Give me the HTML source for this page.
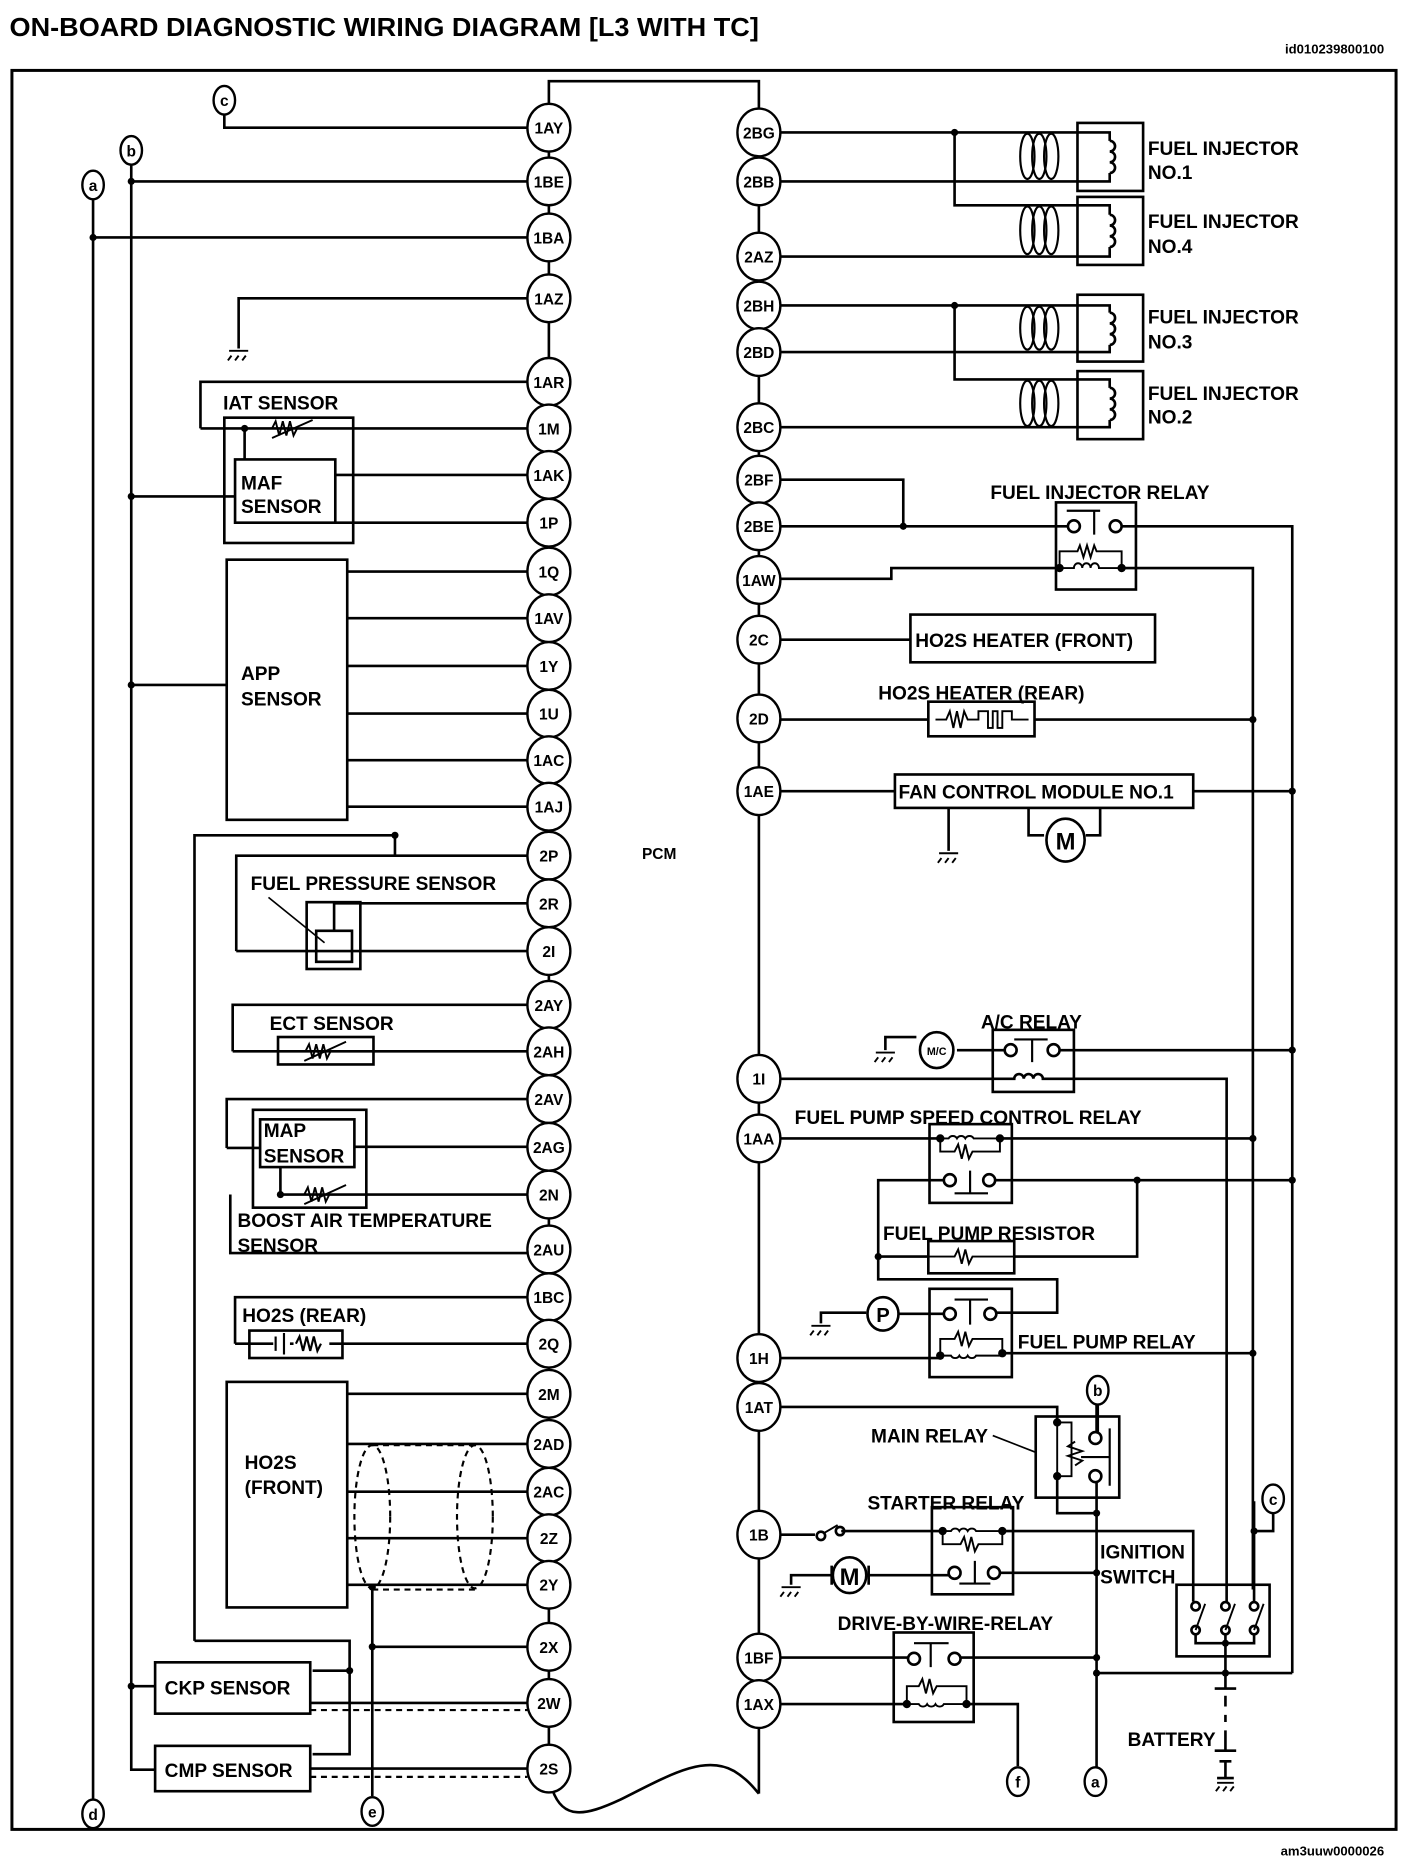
<!DOCTYPE html>
<html><head><meta charset="utf-8"><style>
html,body{margin:0;padding:0;background:#fff;}
svg{display:block;}
text{font-family:"Liberation Sans Narrow","Liberation Sans",sans-serif;font-weight:bold;fill:#000;}
</style></head><body>
<svg width="1408" height="1864" viewBox="0 0 1180 1562" preserveAspectRatio="none" xmlns="http://www.w3.org/2000/svg">
<g fill="none" stroke="#000" stroke-width="2.2">
<!-- border -->
<rect x="10" y="59" width="1160" height="1474" stroke-width="2.5"/>
<!-- PCM body -->
<path d="M460,87 V68 H636 V91"/>
<path d="M460,87 V1462"/>
<path d="M636,91 V1503"/>
<path d="M463,1500 C472,1525 490,1522 520,1508 C560,1488 590,1470 615,1484 C628,1492 633,1500 636,1503"/>
<!-- left connections -->
<path d="M188,96 V107 H442"/>
<path d="M110,137 V1483 H130"/>
<path d="M78,167 V1508"/>
<path d="M110,152 H442"/>
<path d="M78,199 H442"/>
<path d="M200,292 V250 H442"/>
<path d="M168,359 V320 H442"/>
<path d="M168,359 H442"/>
<rect x="188" y="350" width="108" height="105"/>
<rect x="197" y="385" width="84" height="53"/>
<path d="M205,359 V385"/>
<path d="M281,398 H442 M281,438 H442 M110,416 H197"/>
<rect x="190" y="469" width="101" height="218"/>
<path d="M291,479 H442 M291,518 H442 M291,558 H442 M291,598 H442 M291,637 H442 M291,676 H442 M110,574 H190"/>
<path d="M163,1375 V700 H331 V717 M198,797 V717 H442"/>
<path d="M198,797 H442"/>
<rect x="257" y="756" width="45" height="56"/>
<rect x="265" y="780" width="30" height="26"/>
<path d="M280,780 V757 H442"/>
<path d="M225,752 L272,790" stroke-width="1.4"/>
<path d="M195,881 V842 H442 M195,881 H442"/>
<rect x="233" y="869" width="80" height="23"/>
<path d="M190,962 V921 H442 M190,962 H218"/>
<rect x="212" y="930" width="95" height="82"/>
<rect x="218" y="938" width="79" height="40"/>
<path d="M297,961 H442 M235,978 V1001 M235,1001 H442 M193,1001 V1050 H442"/>
<path d="M197,1126 V1087 H442 M197,1126 H442"/>
<rect x="209" y="1115" width="78" height="23"/>
<rect x="190" y="1158" width="101" height="189"/>
<path d="M291,1168 H442 M291,1210 H442 M291,1250 H442 M291,1289 H442 M291,1328 H442"/>
<g stroke-dasharray="5,4" stroke-width="1.8">
<ellipse cx="312" cy="1271" rx="15" ry="60"/>
<ellipse cx="398" cy="1271" rx="15" ry="60"/>
<path d="M312,1211 H398 M312,1332 H398"/>
<path d="M260,1433 H442 M260,1489 H442"/>
</g>
<path d="M312,1328 V1505 M312,1380 H442"/>
<path d="M163,1375 H293 V1470 H262"/>
<rect x="130" y="1393" width="130" height="43"/>
<rect x="130" y="1463" width="130" height="38"/>
<path d="M110,1413 H130 M260,1427 H442 M260,1482 H442 M262,1400 H293"/>
<!-- right: injectors -->
<path d="M654,111 H903 M654,152 H903 M800,111 V172 H903 M654,215 H903"/>
<path d="M654,256 H903 M654,295 H903 M800,256 V318 H903 M654,358 H903"/>
<g stroke-width="1.8">
<ellipse cx="861" cy="131" rx="6" ry="19"/><ellipse cx="871" cy="131" rx="6" ry="19"/><ellipse cx="881" cy="131" rx="6" ry="19"/>
<ellipse cx="861" cy="193" rx="6" ry="20"/><ellipse cx="871" cy="193" rx="6" ry="20"/><ellipse cx="881" cy="193" rx="6" ry="20"/>
<ellipse cx="861" cy="275" rx="6" ry="18"/><ellipse cx="871" cy="275" rx="6" ry="18"/><ellipse cx="881" cy="275" rx="6" ry="18"/>
<ellipse cx="861" cy="338" rx="6" ry="19"/><ellipse cx="871" cy="338" rx="6" ry="19"/><ellipse cx="881" cy="338" rx="6" ry="19"/>
</g>
<rect x="903" y="103" width="55" height="57"/>
<rect x="903" y="165" width="55" height="57"/>
<rect x="903" y="247" width="55" height="56"/>
<rect x="903" y="311" width="55" height="57"/>
<path d="M903,111 H930 V118 M930,145 V152 H903 M930,118 a4,4 0 0 1 0,9 a4,4 0 0 1 0,9 a4,4 0 0 1 0,9"/>
<path d="M903,172 H930 V180 M930,207 V215 H903 M930,180 a4,4 0 0 1 0,9 a4,4 0 0 1 0,9 a4,4 0 0 1 0,9"/>
<path d="M903,256 H930 V262 M930,289 V295 H903 M930,262 a4,4 0 0 1 0,9 a4,4 0 0 1 0,9 a4,4 0 0 1 0,9"/>
<path d="M903,318 H930 V325 M930,352 V358 H903 M930,325 a4,4 0 0 1 0,9 a4,4 0 0 1 0,9 a4,4 0 0 1 0,9"/>
<!-- fuel injector relay -->
<path d="M654,402 H757 V441 M654,441 H895"/>
<rect x="885" y="421" width="67" height="73"/>
<circle cx="900" cy="441" r="5"/><circle cx="935" cy="441" r="5"/>
<path d="M894,428 H922 M917,428 V448" stroke-width="1.8"/>
<path d="M654,485 H747 V476 H888 M940,476 H1050 V1332 M940,441 H1083 V1402"/>
<path d="M888,476 V462 H903 l2,-5 3,10 3,-10 3,10 3,-10 2,5 H940 V476" stroke-width="1.6"/>
<path d="M888,476 H900 a3.5,4 0 0 1 7,0 a3.5,4 0 0 1 7,0 a3.5,4 0 0 1 7,0 H940" stroke-width="1.6"/>
<!-- HO2S heaters -->
<path d="M654,536 H763"/>
<rect x="763" y="515" width="205" height="40"/>
<path d="M654,603 H778 M867,603 H1050"/>
<rect x="778" y="588" width="89" height="29"/>
<path d="M784,603 H793 l3,-7 3,14 3,-14 3,14 3,-14 3,7 H820 V596 H828 V610 H832 V596 H836 V610 H840 V596 H848 V603 H862" stroke-width="1.6"/>
<!-- fan -->
<path d="M654,663 H750 M1000,663 H1083"/>
<rect x="750" y="649" width="250" height="28"/>
<path d="M795,677 V713"/>
<path d="M862,677 V700 H875 M922,677 V700 H910"/>
<ellipse cx="893" cy="704" rx="16" ry="18"/>
<!-- A/C relay -->
<rect x="832" y="863" width="68" height="52"/>
<circle cx="847" cy="880" r="5"/><circle cx="883" cy="880" r="5"/>
<path d="M850,871 H878 M865,871 V890" stroke-width="1.8"/>
<path d="M742,880 V869 H768 M802,880 H842 M888,880 H1083"/>
<ellipse cx="785" cy="880" rx="14" ry="15"/>
<path d="M654,904 H850 a4,4 0 0 1 8,0 a4,4 0 0 1 8,0 a4,4 0 0 1 8,0 H1028 V1332"/>
<!-- fuel pump speed control relay -->
<rect x="779" y="942" width="69" height="66"/>
<path d="M654,954 H788 M838,954 H1050"/>
<path d="M788,954 H795 a4,4 0 0 1 7,0 a4,4 0 0 1 7,0 a4,4 0 0 1 7,0 H838 M788,954 V965 H800 l3,-6 3,12 3,-12 3,12 3,-6 H838 V954" stroke-width="1.6"/>
<circle cx="796" cy="989" r="5"/><circle cx="829" cy="989" r="5"/>
<path d="M800,1000 H828 M813,1000 V981" stroke-width="1.8"/>
<path d="M791,989 H736 V1072 H886 V1100 H834 M834,989 H1083 M953,989 V1053 H849 M736,1053 H778"/>
<rect x="778" y="1040" width="72" height="27"/>
<path d="M778,1053 H800 l3,-6 3,12 3,-12 3,12 3,-6 H850" stroke-width="1.6"/>
<!-- fuel pump relay -->
<rect x="779" y="1080" width="69" height="74"/>
<circle cx="796" cy="1101" r="5"/><circle cx="830" cy="1101" r="5"/>
<path d="M800,1089 H828 M813,1089 V1110" stroke-width="1.8"/>
<path d="M688,1109 V1100 H726 M753,1101 H791"/>
<ellipse cx="740" cy="1101" rx="13" ry="14"/>
<path d="M654,1138 H788 M838,1134 H1050"/>
<path d="M788,1136 V1122 H800 l3,-6 3,12 3,-12 3,12 3,-6 H840 V1134 M788,1136 H797 a4,4 0 0 0 7,0 a4,4 0 0 0 7,0 a4,4 0 0 0 7,0 H840" stroke-width="1.6"/>
<!-- main relay -->
<path d="M654,1179 H886 V1192"/>
<rect x="868" y="1187" width="70" height="68"/>
<path d="M886,1192 V1237 M886,1192 H898 V1237 H886" stroke-width="1.6"/>
<path d="M901,1208 l-6,4 12,4 -12,4 12,4 -6,4" stroke-width="1.6"/>
<circle cx="918" cy="1205" r="5"/><circle cx="918" cy="1237" r="5"/>
<path d="M930,1197 V1245 M930,1221 H906" stroke-width="1.8"/>
<path d="M886,1237 V1268 H919 M919,1176 V1200 M919,1242 V1493"/>
<path d="M832,1203 L868,1217" stroke-width="1.4"/>
<!-- starter relay -->
<rect x="781" y="1263" width="68" height="73"/>
<path d="M654,1286 H683 M705,1283 H790 M840,1283 H1000 V1332"/>
<circle cx="688" cy="1287" r="3.5"/><circle cx="704" cy="1283" r="3.5"/>
<path d="M690,1285 L702,1278" stroke-width="1.6"/>
<path d="M790,1283 H797 a4,4 0 0 1 7,0 a4,4 0 0 1 7,0 a4,4 0 0 1 7,0 H840 M790,1283 V1294 H805 l3,-6 3,12 3,-12 3,12 3,-6 H840 V1283" stroke-width="1.6"/>
<circle cx="800" cy="1318" r="5"/><circle cx="833" cy="1318" r="5"/>
<path d="M804,1327 H830 M817,1327 V1308" stroke-width="1.8"/>
<path d="M663,1328 V1320 H697 M728,1320 H795 M838,1318 H919"/>
<ellipse cx="712" cy="1320" rx="14" ry="15"/>
<path d="M697,1312 V1328 M728,1312 V1328"/>
<!-- ignition switch -->
<rect x="986" y="1328" width="78" height="60"/>
<path d="M1000,1332 V1342 M1028,1332 V1342 M1051,1258 V1342" />
<circle cx="1002" cy="1346" r="3.5"/><circle cx="1027" cy="1346" r="3.5"/><circle cx="1051" cy="1346" r="3.5"/>
<circle cx="1002" cy="1366" r="3.5"/><circle cx="1027" cy="1366" r="3.5"/><circle cx="1051" cy="1366" r="3.5"/>
<path d="M1002,1366 L1010,1344 M1027,1366 L1035,1344 M1051,1366 L1059,1344" stroke-width="1.6"/>
<path d="M1002,1370 V1377 H1051 V1370 M1027,1370 V1415"/>
<path d="M1051,1283 H1067 V1267"/>
<path d="M919,1402 H1083"/>
<!-- battery -->
<path d="M1018,1415 H1036 M1027,1421 V1430 M1027,1437 V1443 M1027,1450 V1457 M1018,1467 H1036 M1027,1467 V1457 M1022,1476 H1032 M1027,1476 V1490 M1020,1490 H1034"/>
<!-- DBW relay -->
<rect x="749" y="1368" width="67" height="75"/>
<circle cx="766" cy="1390" r="5"/><circle cx="800" cy="1390" r="5"/>
<path d="M766,1377 H795 M780,1377 V1397" stroke-width="1.8"/>
<path d="M654,1389 H761 M805,1389 H919"/>
<path d="M654,1428 H760 M810,1428 H853 V1480"/>
<path d="M760,1428 V1413 H770 l3,-6 3,12 3,-12 3,12 3,-6 H810 V1428 M760,1428 H770 a4,4 0 0 0 7,0 a4,4 0 0 0 7,0 a4,4 0 0 0 7,0 H810" stroke-width="1.6"/>
</g>
<!-- resistors / thermistors left -->
<g fill="none" stroke="#000" stroke-width="1.6">
<path d="M228,359 l3,-6 3,12 3,-12 3,12 3,-12 3,12 3,-6 M228,367 L262,352"/>
<path d="M256,881 l3,-6 3,12 3,-12 3,12 3,-12 3,12 3,-6 M255,889 L290,873"/>
<path d="M255,1001 l3,-6 3,12 3,-12 3,12 3,-12 3,12 3,-6 M255,1009 L290,993"/>
<path d="M235,1120 V1132 M240,1117 V1135 M247,1126 l3,-6 3,12 3,-12 3,12 3,-12 3,6" stroke="#fff" stroke-width="0"/>
</g>
<rect x="229" y="1120" width="14" height="12" fill="#fff"/>
<rect x="246" y="1120" width="30" height="12" fill="#fff"/>
<path d="M231,1120 V1132 M238,1117 V1135 M248,1126 l3,-6 3,12 3,-12 3,12 3,-12 3,12 3,-6" fill="none" stroke="#000" stroke-width="1.8"/>
<!-- grounds -->
<g fill="none" stroke="#000" stroke-width="1.6">
<path d="M192,294 H208 M194,298 l-3,4 M200,298 l-3,4 M206,298 l-3,4" />
<path d="M787,715 H803 M789,719 l-3,4 M795,719 l-3,4 M801,719 l-3,4"/>
<path d="M734,882 H750 M736,886 l-3,4 M742,886 l-3,4 M748,886 l-3,4"/>
<path d="M680,1111 H696 M682,1115 l-3,4 M688,1115 l-3,4 M694,1115 l-3,4"/>
<path d="M655,1330 H671 M657,1334 l-3,4 M663,1334 l-3,4 M669,1334 l-3,4"/>
<path d="M1020,1494 H1034 M1022,1497 l-3,4 M1028,1497 l-3,4 M1034,1497 l-3,4"/>
</g>
<!-- dots -->
<g fill="#000">
<circle cx="110" cy="152" r="3"/><circle cx="78" cy="199" r="3"/><circle cx="205" cy="359" r="3"/>
<circle cx="110" cy="416" r="3"/><circle cx="110" cy="574" r="3"/><circle cx="331" cy="700" r="3"/>
<circle cx="235" cy="1001" r="3"/><circle cx="312" cy="1330" r="3"/><circle cx="312" cy="1380" r="3"/>
<circle cx="293" cy="1400" r="3"/><circle cx="110" cy="1413" r="3"/>
<circle cx="800" cy="111" r="3"/><circle cx="800" cy="256" r="3"/><circle cx="757" cy="441" r="3"/>
<circle cx="888" cy="476" r="3.5"/><circle cx="940" cy="476" r="3.5"/>
<circle cx="1050" cy="603" r="3"/><circle cx="1083" cy="663" r="3"/><circle cx="1083" cy="880" r="3"/>
<circle cx="788" cy="954" r="3.5"/><circle cx="838" cy="954" r="3.5"/><circle cx="1050" cy="954" r="3"/>
<circle cx="953" cy="989" r="3"/><circle cx="1083" cy="989" r="3"/><circle cx="736" cy="1053" r="3"/>
<circle cx="788" cy="1136" r="3.5"/><circle cx="840" cy="1134" r="3.5"/><circle cx="1050" cy="1134" r="3"/>
<circle cx="886" cy="1192" r="3.5"/><circle cx="886" cy="1237" r="3.5"/><circle cx="919" cy="1268" r="3"/>
<circle cx="790" cy="1283" r="3.5"/><circle cx="840" cy="1283" r="3.5"/><circle cx="919" cy="1318" r="3"/>
<circle cx="1051" cy="1283" r="3"/><circle cx="1027" cy="1377" r="3"/><circle cx="1027" cy="1402" r="3"/>
<circle cx="919" cy="1389" r="3"/><circle cx="919" cy="1402" r="3"/>
<circle cx="760" cy="1428" r="3.5"/><circle cx="810" cy="1428" r="3.5"/>
</g>
<!-- pins -->
<g fill="#fff" stroke="#000" stroke-width="2">
<ellipse cx="460" cy="107" rx="18" ry="20"/><ellipse cx="460" cy="152" rx="18" ry="20"/><ellipse cx="460" cy="199" rx="18" ry="20"/><ellipse cx="460" cy="250" rx="18" ry="20"/>
<ellipse cx="460" cy="320" rx="18" ry="20"/><ellipse cx="460" cy="359" rx="18" ry="20"/><ellipse cx="460" cy="398" rx="18" ry="20"/><ellipse cx="460" cy="438" rx="18" ry="20"/>
<ellipse cx="460" cy="479" rx="18" ry="20"/><ellipse cx="460" cy="518" rx="18" ry="20"/><ellipse cx="460" cy="558" rx="18" ry="20"/><ellipse cx="460" cy="598" rx="18" ry="20"/>
<ellipse cx="460" cy="637" rx="18" ry="20"/><ellipse cx="460" cy="676" rx="18" ry="20"/><ellipse cx="460" cy="717" rx="18" ry="20"/><ellipse cx="460" cy="757" rx="18" ry="20"/>
<ellipse cx="460" cy="797" rx="18" ry="20"/><ellipse cx="460" cy="842" rx="18" ry="20"/><ellipse cx="460" cy="881" rx="18" ry="20"/><ellipse cx="460" cy="921" rx="18" ry="20"/>
<ellipse cx="460" cy="961" rx="18" ry="20"/><ellipse cx="460" cy="1001" rx="18" ry="20"/><ellipse cx="460" cy="1047" rx="18" ry="20"/><ellipse cx="460" cy="1087" rx="18" ry="20"/>
<ellipse cx="460" cy="1126" rx="18" ry="20"/><ellipse cx="460" cy="1168" rx="18" ry="20"/><ellipse cx="460" cy="1210" rx="18" ry="20"/><ellipse cx="460" cy="1250" rx="18" ry="20"/>
<ellipse cx="460" cy="1289" rx="18" ry="20"/><ellipse cx="460" cy="1328" rx="18" ry="20"/><ellipse cx="460" cy="1380" rx="18" ry="20"/><ellipse cx="460" cy="1427" rx="18" ry="20"/>
<ellipse cx="460" cy="1482" rx="18" ry="20"/>
<ellipse cx="636" cy="111" rx="18" ry="20"/><ellipse cx="636" cy="152" rx="18" ry="20"/><ellipse cx="636" cy="215" rx="18" ry="20"/><ellipse cx="636" cy="256" rx="18" ry="20"/>
<ellipse cx="636" cy="295" rx="18" ry="20"/><ellipse cx="636" cy="358" rx="18" ry="20"/><ellipse cx="636" cy="402" rx="18" ry="20"/><ellipse cx="636" cy="441" rx="18" ry="20"/>
<ellipse cx="636" cy="486" rx="18" ry="20"/><ellipse cx="636" cy="536" rx="18" ry="20"/><ellipse cx="636" cy="602" rx="18" ry="20"/><ellipse cx="636" cy="663" rx="18" ry="20"/>
<ellipse cx="636" cy="904" rx="18" ry="20"/><ellipse cx="636" cy="954" rx="18" ry="20"/><ellipse cx="636" cy="1138" rx="18" ry="20"/><ellipse cx="636" cy="1179" rx="18" ry="20"/>
<ellipse cx="636" cy="1286" rx="18" ry="20"/><ellipse cx="636" cy="1389" rx="18" ry="20"/><ellipse cx="636" cy="1428" rx="18" ry="20"/>
<!-- letter connectors -->
<ellipse cx="188" cy="84" rx="9" ry="12"/><ellipse cx="110" cy="126" rx="9" ry="12"/><ellipse cx="78" cy="155" rx="9" ry="12"/>
<ellipse cx="78" cy="1520" rx="9" ry="12"/><ellipse cx="312" cy="1518" rx="9" ry="12"/>
<ellipse cx="920" cy="1165" rx="9" ry="12"/><ellipse cx="1067" cy="1256" rx="9" ry="12"/>
<ellipse cx="853" cy="1493" rx="9" ry="12"/><ellipse cx="918" cy="1493" rx="9" ry="12"/>
</g>
<path d="M920,1177 V1200" stroke="#000" stroke-width="2.2"/>
<g font-size="13" text-anchor="middle">
<text x="460" y="112">1AY</text><text x="460" y="157">1BE</text><text x="460" y="204">1BA</text><text x="460" y="255">1AZ</text>
<text x="460" y="325">1AR</text><text x="460" y="364">1M</text><text x="460" y="403">1AK</text><text x="460" y="443">1P</text>
<text x="460" y="484">1Q</text><text x="460" y="523">1AV</text><text x="460" y="563">1Y</text><text x="460" y="603">1U</text>
<text x="460" y="642">1AC</text><text x="460" y="681">1AJ</text><text x="460" y="722">2P</text><text x="460" y="762">2R</text>
<text x="460" y="802">2I</text><text x="460" y="847">2AY</text><text x="460" y="886">2AH</text><text x="460" y="926">2AV</text>
<text x="460" y="966">2AG</text><text x="460" y="1006">2N</text><text x="460" y="1052">2AU</text><text x="460" y="1092">1BC</text>
<text x="460" y="1131">2Q</text><text x="460" y="1173">2M</text><text x="460" y="1215">2AD</text><text x="460" y="1255">2AC</text>
<text x="460" y="1294">2Z</text><text x="460" y="1333">2Y</text><text x="460" y="1385">2X</text><text x="460" y="1432">2W</text>
<text x="460" y="1487">2S</text>
<text x="636" y="116">2BG</text><text x="636" y="157">2BB</text><text x="636" y="220">2AZ</text><text x="636" y="261">2BH</text>
<text x="636" y="300">2BD</text><text x="636" y="363">2BC</text><text x="636" y="407">2BF</text><text x="636" y="446">2BE</text>
<text x="636" y="491">1AW</text><text x="636" y="541">2C</text><text x="636" y="607">2D</text><text x="636" y="668">1AE</text>
<text x="636" y="909">1I</text><text x="636" y="959">1AA</text><text x="636" y="1143">1H</text><text x="636" y="1184">1AT</text>
<text x="636" y="1291">1B</text><text x="636" y="1394">1BF</text><text x="636" y="1433">1AX</text>
<text x="188" y="89">c</text><text x="110" y="131">b</text><text x="78" y="160">a</text><text x="78" y="1525">d</text><text x="312" y="1523">e</text>
<text x="920" y="1170">b</text><text x="1067" y="1261">c</text><text x="853" y="1498">f</text><text x="918" y="1498">a</text>
<text x="893" y="712" font-size="20">M</text><text x="712" y="1328" font-size="20">M</text><text x="740" y="1108" font-size="17">P</text>
<text x="785" y="884" font-size="9">M/C</text>
</g>
<g font-size="16">
<text x="8" y="30" font-size="22" textLength="628" lengthAdjust="spacingAndGlyphs">ON-BOARD DIAGNOSTIC WIRING DIAGRAM [L3 WITH TC]</text>
<text x="1160" y="45" font-size="11" font-weight="normal" text-anchor="end">id010239800100</text>
<text x="1160" y="1555" font-size="11" font-weight="normal" text-anchor="end">am3uuw0000026</text>
<text x="187" y="343">IAT SENSOR</text>
<text x="202" y="410">MAF</text><text x="202" y="430">SENSOR</text>
<text x="202" y="570">APP</text><text x="202" y="591">SENSOR</text>
<text x="538" y="720" font-size="13" font-weight="normal">PCM</text>
<text x="210" y="746">FUEL PRESSURE SENSOR</text>
<text x="226" y="863">ECT SENSOR</text>
<text x="221" y="953">MAP</text><text x="221" y="974">SENSOR</text>
<text x="199" y="1028">BOOST AIR TEMPERATURE</text><text x="199" y="1049">SENSOR</text>
<text x="203" y="1108">HO2S (REAR)</text>
<text x="205" y="1231">HO2S</text><text x="205" y="1252">(FRONT)</text>
<text x="138" y="1420">CKP SENSOR</text>
<text x="138" y="1489">CMP SENSOR</text>
<text x="962" y="130">FUEL INJECTOR</text><text x="962" y="150">NO.1</text>
<text x="962" y="191">FUEL INJECTOR</text><text x="962" y="212">NO.4</text>
<text x="962" y="271">FUEL INJECTOR</text><text x="962" y="292">NO.3</text>
<text x="962" y="335">FUEL INJECTOR</text><text x="962" y="355">NO.2</text>
<text x="830" y="418">FUEL INJECTOR RELAY</text>
<text x="767" y="542">HO2S HEATER (FRONT)</text>
<text x="736" y="586">HO2S HEATER (REAR)</text>
<text x="753" y="669">FAN CONTROL MODULE NO.1</text>
<text x="822" y="862">A/C RELAY</text>
<text x="666" y="942">FUEL PUMP SPEED CONTROL RELAY</text>
<text x="740" y="1039">FUEL PUMP RESISTOR</text>
<text x="853" y="1130">FUEL PUMP RELAY</text>
<text x="730" y="1209">MAIN RELAY</text>
<text x="727" y="1265">STARTER RELAY</text>
<text x="922" y="1306">IGNITION</text><text x="922" y="1327">SWITCH</text>
<text x="702" y="1366">DRIVE-BY-WIRE-RELAY</text>
<text x="945" y="1463">BATTERY</text>
</g>
</svg>
</body></html>
